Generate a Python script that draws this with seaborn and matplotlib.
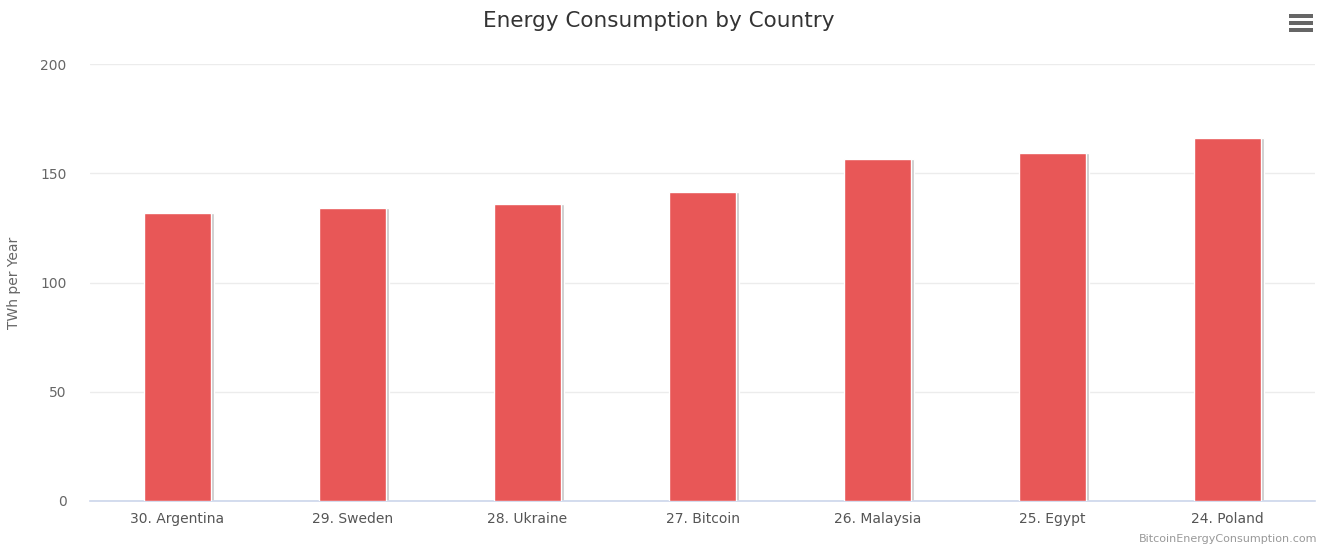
import matplotlib
matplotlib.use("Agg")
import matplotlib.pyplot as plt
import seaborn as sns
import pandas as pd
from matplotlib.patches import Rectangle

categories = ["30. Argentina", "29. Sweden", "28. Ukraine", "27. Bitcoin",
              "26. Malaysia", "25. Egypt", "24. Poland"]
values = [132.1, 134.4, 135.8, 141.3, 156.6, 159.3, 166.1]
yticks = [0, 50, 100, 150, 200]

sns.set_theme(style="white")
plt.rcParams["font.family"] = ["DejaVu Sans"]

df = pd.DataFrame({"country": categories, "twh": values})

fig = plt.figure(figsize=(13.29, 5.46), dpi=100)
ax = fig.add_axes([90 / 1329, 45 / 546, (1315 - 90) / 1329, (501.7 - 65) / 546])

# shadow bars
sns.barplot(data=df, x="country", y="twh", ax=ax, color="#c8c8c8", width=0.38,
            saturation=1, zorder=2)
for p in ax.patches:
    p.set_x(p.get_x() + 0.02)
sns.barplot(data=df, x="country", y="twh", ax=ax, color="#e85757", width=0.38,
            saturation=1, zorder=3)

ax.set_ylim(0, 200)
ax.set_xlim(-0.5, len(categories) - 0.5)
ax.set_yticks(yticks)
ax.set_yticklabels([str(t) for t in yticks], color="#666666", fontsize=10)
ax.tick_params(axis="x", colors="#555555", labelsize=10, length=0, pad=8)
ax.tick_params(axis="y", length=0, pad=17)
ax.yaxis.grid(True, color="#ececec", linewidth=1)
ax.set_axisbelow(True)
for s in ["top", "right", "left"]:
    ax.spines[s].set_visible(False)
ax.spines["bottom"].set_color("#ccd6eb")
ax.spines["bottom"].set_linewidth(1.2)
ax.set_xlabel("")
ax.set_ylabel("TWh per Year", color="#666666", fontsize=10, labelpad=14)
ax.yaxis.set_label_coords(-69 / 1225, 0.5)

fig.text(0.496, 0.962, "Energy Consumption by Country", ha="center", va="center",
         fontsize=15.5, color="#333333")
fig.text(1317 / 1329, 2 / 546, "BitcoinEnergyConsumption.com", ha="right",
         va="bottom", fontsize=8, color="#999999")

# menu icon
for yy in [16, 23, 30]:
    fig.patches.append(Rectangle((1289 / 1329, 1 - (yy + 1.5) / 546), 24 / 1329,
                                 3.5 / 546, transform=fig.transFigure,
                                 facecolor="#666666", edgecolor="none"))

fig.savefig("out.png", dpi=100, facecolor="white")
